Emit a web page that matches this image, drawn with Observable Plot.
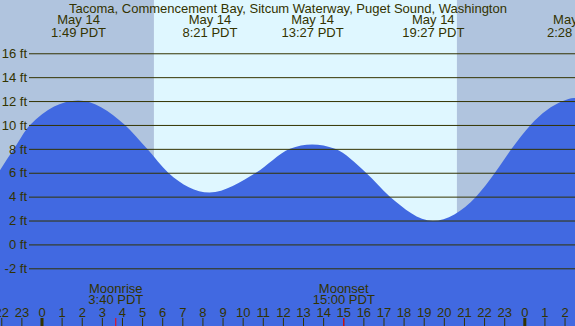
<!DOCTYPE html>
<html>
<head>
<meta charset="utf-8">
<script src="https://cdn.jsdelivr.net/npm/d3@7"></script>
<script src="https://cdn.jsdelivr.net/npm/@observablehq/plot@0.6"></script>
<style>
  html, body { margin: 0; padding: 0; background: #fff; overflow: hidden; }
  #chart svg { display: block; }
</style>
</head>
<body>
<div id="chart"></div>
<script>
// ---- Data (hours since May 14 00:00 PDT, heights in ft) ----
const title = "Tacoma, Commencement Bay, Sitcum Waterway, Puget Sound, Washington";

const tideHours = [-2.07, -1.37, -0.57, 1.82, 4.15, 5.25, 6.3, 8.35, 10.66, 12.35, 13.45, 14.59, 16.13, 17.32, 19.45, 21.6, 22.54, 23.37, 24.31, 25.92, 26.47, 26.6];
const tideFeet  = [6.2,   8.0,   10.0,  12.05, 10.0, 8.0,  6.0, 4.35, 6.0,   8.0,   8.37,  8.0,   6.0,   4.0,   1.98,  4.0,  6.0,   8.0,   10.0,  12.0,  12.25, 12.24];

const extremaHours = [1.817, 8.35, 13.45, 19.45, 26.467];
const extremaDates = ["May 14", "May 14", "May 14", "May 14", "May 15"];
const extremaTimes = ["1:49 PDT", "8:21 PDT", "13:27 PDT", "19:27 PDT", "2:28 PDT"];

const sunriseHour = 5.59;
const sunsetHour = 20.65;

const moonHours = [3.667, 15.0];
const moonNames = ["Moonrise", "Moonset"];
const moonTimes = ["3:40 PDT", "15:00 PDT"];

const hourTicks  = [-2, -1, 0, 1, 2, 3, 4, 5, 6, 7, 8, 9, 10, 11, 12, 13, 14, 15, 16, 17, 18, 19, 20, 21, 22, 23, 24, 25, 26];
const hourLabels = ["22","23","0","1","2","3","4","5","6","7","8","9","10","11","12","13","14","15","16","17","18","19","20","21","22","23","0","1","2"];
const midnightHours = [0, 24];

const feetTicks  = [-2, 0, 2, 4, 6, 8, 10, 12, 14, 16];
const feetLabels = ["-2 ft", "0 ft", "2 ft", "4 ft", "6 ft", "8 ft", "10 ft", "12 ft", "14 ft", "16 ft"];

// ---- Derived tables ----
const xDomain = [-2.063, 26.52];
const yDomain = [-6.83, 20.46];
const tide = tideHours.map((h, i) => ({h, ft: tideFeet[i]}));
const bands = [
  {x1: xDomain[0], x2: sunriseHour, fill: "#b0c4de"},
  {x1: sunriseHour, x2: sunsetHour, fill: "#dff7ff"},
  {x1: sunsetHour, x2: xDomain[1], fill: "#b0c4de"}
];
const ink = "#333300";
const font = "Liberation Sans, Arial, sans-serif";
const idx = a => a.map((_, i) => i);

const chart = Plot.plot({
  width: 575,
  height: 326,
  margin: 0,
  style: {fontFamily: font, fontSize: "13px", background: "#fff"},
  x: {type: "linear", domain: xDomain, axis: null},
  y: {type: "linear", domain: yDomain, axis: null},
  marks: [
    Plot.rect(bands, {x1: "x1", x2: "x2", fill: "fill"}),
    Plot.areaY(tide, {x: "h", y1: yDomain[0], y2: "ft", curve: "monotone-x", fill: "#4169e1"}),
    Plot.ruleY(feetTicks, {stroke: ink, strokeWidth: 1, insetLeft: 29}),
    Plot.text(idx(feetTicks), {y: i => feetTicks[i], text: i => feetLabels[i], frameAnchor: "left", dx: 26.5, textAnchor: "end", fill: ink, fontSize: 13}),
    Plot.text([title], {frameAnchor: "top", dy: 12, lineAnchor: "bottom", fill: ink, fontSize: 13}),
    Plot.text(idx(extremaHours), {x: i => extremaHours[i], text: i => extremaDates[i], frameAnchor: "top", dy: 23.5, lineAnchor: "bottom", fill: ink, fontSize: 13}),
    Plot.text(idx(extremaHours), {x: i => extremaHours[i], text: i => extremaTimes[i], frameAnchor: "top", dy: 36, lineAnchor: "bottom", fill: ink, fontSize: 13}),
    Plot.text(idx(moonHours), {x: i => moonHours[i], text: i => moonNames[i], frameAnchor: "bottom", dy: -34, lineAnchor: "bottom", fill: ink, fontSize: 13}),
    Plot.text(idx(moonHours), {x: i => moonHours[i], text: i => moonTimes[i], frameAnchor: "bottom", dy: -22.5, lineAnchor: "bottom", fill: ink, fontSize: 13}),
    Plot.text(idx(hourTicks), {x: i => hourTicks[i], text: i => hourLabels[i], frameAnchor: "bottom", dy: -9.5, lineAnchor: "bottom", fill: ink, fontSize: 13}),
    Plot.ruleX(hourTicks, {stroke: ink, strokeWidth: 1, insetTop: 318}),
    Plot.ruleX(midnightHours, {stroke: ink, strokeWidth: 3, insetTop: 318}),
    Plot.ruleX(moonHours, {stroke: "red", strokeWidth: 1, insetTop: 318})
  ]
});
document.getElementById("chart").appendChild(chart);
</script>
</body>
</html>
